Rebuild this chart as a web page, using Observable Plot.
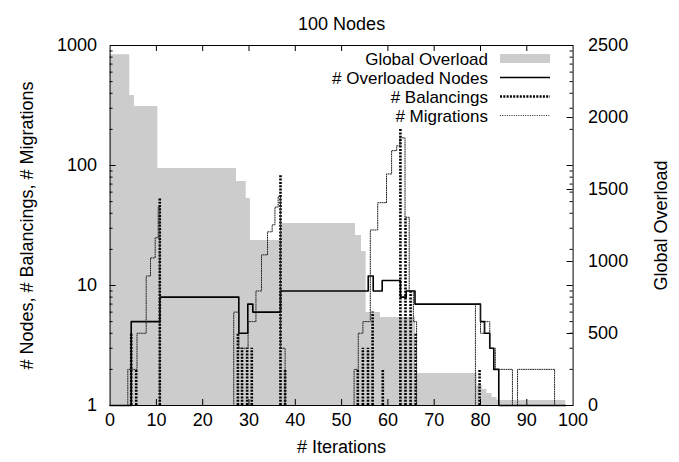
<!DOCTYPE html>
<html>
<head>
<meta charset="utf-8">
<script src="https://cdn.jsdelivr.net/npm/d3@7"></script>
<script src="https://cdn.jsdelivr.net/npm/@observablehq/plot@0.6"></script>
<style>
  html, body { margin: 0; padding: 0; background: #fff; }
</style>
</head>
<body>
<div id="chart"></div>
<script>
// ---------- text ----------
const title = "100 Nodes";
const xLabel = "# Iterations";
const yLabel = "# Nodes, # Balancings, # Migrations";
const y2Label = "Global Overload";
const seriesNames = ["Global Overload", "# Overloaded Nodes", "# Balancings", "# Migrations"];

// ---------- ticks ----------
const xTicks = [0, 10, 20, 30, 40, 50, 60, 70, 80, 90, 100];
const yTicks = [1, 10, 100, 1000];
const yMinorTicks = [2, 3, 4, 5, 6, 7, 8, 9, 20, 30, 40, 50, 60, 70, 80, 90, 200, 300, 400, 500, 600, 700, 800, 900];
const y2Ticks = [0, 500, 1000, 1500, 2000, 2500];

// ---------- data ----------
// Global Overload (right axis), step function: value holds from iteration until next
const overloadIter = [0, 4.25, 5.27, 10.3, 27.3, 29.4, 30.3, 37.0, 53.0, 54.3, 55.3, 58.4, 66.0, 79.3, 80.4, 81.4, 82.5, 83.6, 98.4];
const overloadVal  = [2435, 2153, 2076, 1646, 1556, 1437, 1146, 1264, 1180, 1069, 645, 611, 222, 139, 111, 83, 56, 35, 35];

// # Overloaded Nodes (left axis, log), step function
const nodesIter = [0, 4.56, 10.73, 27.8, 29.74, 30.82, 36.8, 55.75, 56.83, 58.77, 62.7, 63.95, 65.85, 80.0, 80.86, 82.0, 82.87, 83.95, 98.4];
const nodesVal  = [1, 5, 8, 4, 7, 6, 9, 12, 9, 11, 8, 9, 7, 5, 4, 3, 2, 1, 1];

// # Balancings (left axis, log), impulses
const balIter = [4.56, 5.64, 10.73, 27.6, 28.5, 29.6, 30.6, 36.8, 37.8, 53.5, 54.6, 55.7, 56.7, 58.9, 62.7, 63.8, 64.9, 66.0, 79.8];
const balVal  = [4, 2, 53, 4, 3, 3, 3, 83, 2, 2, 3, 3, 6, 2, 200, 37, 9, 4, 2];

// # Migrations (left axis, log), step function
const migIter = [0, 3.82, 5.81, 7.8, 8.73, 9.74, 10.39, 10.73,
                 26.7, 27.8, 29.8, 31.5, 32.7, 34.0, 35.0, 35.6, 36.3, 36.8, 37.8,
                 52.7, 53.6, 54.6, 56.2, 57.8, 59.7, 60.8, 61.9, 62.6, 63.7, 64.6, 65.5, 66.2,
                 78.9, 80.0, 80.9, 82.0, 83.2, 86.9, 88.0, 96.0, 98.4];
const migVal  = [1, 2, 4, 12, 17, 25, 45, 1,
                 6, 3, 5, 9, 18, 28, 32, 45, 55, 3, 1,
                 2, 4, 5, 29, 49, 85, 133, 146, 170, 37, 9, 5, 1,
                 7, 4, 5, 3, 2, 1, 2, 1, 1];

// ---------- layout ----------
const W = 679, H = 462;
const mL = 109.6, mR = 106.4, mT = 45, mB = 57;
const fs = 18;
const font = "'Liberation Sans', Arial, Helvetica, sans-serif";
const fillGray = "#cccccc";

const yMin = 1, yMax = 1000, y2Max = 2500;
// map right-axis (linear 0..2500) values onto the left log scale (1..1000)
const toY = v => yMin * Math.pow(yMax / yMin, v / y2Max);

const pxPerIter = (W - mL - mR) / 100;
const pxPerDecade = (H - mT - mB) / 3;
const logLen = px => Math.pow(10, px / pxPerDecade);
const majorLen = 6, minorLen = 3;

const overload = overloadIter.map((x, i) => ({x, y: toY(overloadVal[i])}));
const nodes = nodesIter.map((x, i) => ({x, y: nodesVal[i]}));
const bal = balIter.map((x, i) => ({x, y: balVal[i]}));
const mig = migIter.map((x, i) => ({x, y: migVal[i]}));

const innerX = xTicks.filter(t => t > 0 && t < 100);
const innerY = yTicks.filter(t => t > yMin && t < yMax);
const innerY2 = y2Ticks.filter(t => t > 0 && t < y2Max);

const plot = Plot.plot({
  width: W, height: H,
  marginLeft: mL, marginRight: mR, marginTop: mT, marginBottom: mB,
  style: {fontFamily: font, fontSize: fs + "px", background: "#fff", color: "#000"},
  x: {domain: [0, 100]},
  y: {type: "log", domain: [yMin, yMax]},
  marks: [
    Plot.areaY(overload, {x: "x", y1: yMin, y2: "y", curve: "step-after", fill: fillGray}),
    Plot.line(nodes, {x: "x", y: "y", curve: "step-after", stroke: "#000", strokeWidth: 1.6}),
    Plot.ruleX(bal, {x: "x", y1: yMin, y2: "y", stroke: "#000", strokeWidth: 2.6, strokeDasharray: "2,1.3"}),
    Plot.line(mig, {x: "x", y: "y", curve: "step-after", stroke: "#222", strokeWidth: 1, strokeDasharray: "1,1.3"}),
    // inward ticks, gnuplot style
    Plot.ruleX(innerX, {x: d => d, y1: yMin, y2: yMin * logLen(majorLen), stroke: "#000"}),
    Plot.ruleX(innerX, {x: d => d, y1: yMax / logLen(majorLen), y2: yMax, stroke: "#000"}),
    Plot.ruleY(innerY, {y: d => d, x1: 0, x2: majorLen / pxPerIter, stroke: "#000"}),
    Plot.ruleY(yMinorTicks, {y: d => d, x1: 0, x2: minorLen / pxPerIter, stroke: "#000"}),
    Plot.ruleY(innerY, {y: d => d, x1: 100 - majorLen / pxPerIter, x2: 100, stroke: "#000"}),
    Plot.ruleY(yMinorTicks, {y: d => d, x1: 100 - minorLen / pxPerIter, x2: 100, stroke: "#000"}),
    Plot.ruleY(innerY2, {y: d => toY(d), x1: 100 - majorLen / pxPerIter, x2: 100, stroke: "#000"}),
    Plot.frame({stroke: "#000", strokeWidth: 1}),
    // axes labels
    Plot.axisX({ticks: xTicks, tickSize: 0, tickPadding: 8, label: null, fontSize: fs, tickFormat: d => String(d)}),
    Plot.axisY({ticks: yTicks, tickSize: 0, tickPadding: 13, label: null, fontSize: fs, tickFormat: d => String(d)}),
    // right (Global Overload) axis labels, placed through the same y scale
    Plot.text(y2Ticks, {x: 100, y: d => toY(d), text: d => String(d), textAnchor: "start", dx: 15, fontSize: fs}),
    // titles
    Plot.text([title], {text: d => d, frameAnchor: "top", dy: -28, fontSize: fs}),
    Plot.text([xLabel], {text: d => d, frameAnchor: "bottom", dy: 47, fontSize: fs}),
    Plot.text([yLabel], {text: d => d, frameAnchor: "left", textAnchor: "middle", dx: -83, rotate: -90, fontSize: fs}),
    Plot.text([y2Label], {text: d => d, frameAnchor: "right", textAnchor: "middle", dx: 88, rotate: -90, fontSize: fs})
  ]
});

// ---------- legend (inside plot, top right) ----------
const svg = d3.select(plot);
const lfs = 17;
const lg = svg.append("g").attr("font-family", font).attr("font-size", lfs);
const textEnd = 488, sx0 = 500, sx1 = 550;
const rowY = [58.5, 77.5, 96.5, 115.5];
seriesNames.forEach((name, i) => {
  lg.append("text").attr("x", textEnd).attr("y", rowY[i]).attr("dy", "0.36em")
    .attr("text-anchor", "end").attr("fill", "#000").text(name);
});
lg.append("rect").attr("x", sx0).attr("y", rowY[0] - 4.5).attr("width", sx1 - sx0).attr("height", 9).attr("fill", fillGray);
lg.append("line").attr("x1", sx0).attr("x2", sx1).attr("y1", rowY[1]).attr("y2", rowY[1])
  .attr("stroke", "#000").attr("stroke-width", 1.6);
lg.append("line").attr("x1", sx0).attr("x2", sx1).attr("y1", rowY[2]).attr("y2", rowY[2])
  .attr("stroke", "#000").attr("stroke-width", 2.6).attr("stroke-dasharray", "2,1.3");
lg.append("line").attr("x1", sx0).attr("x2", sx1).attr("y1", rowY[3]).attr("y2", rowY[3])
  .attr("stroke", "#222").attr("stroke-width", 1).attr("stroke-dasharray", "1,1.3");

document.getElementById("chart").appendChild(plot);
</script>
</body>
</html>
